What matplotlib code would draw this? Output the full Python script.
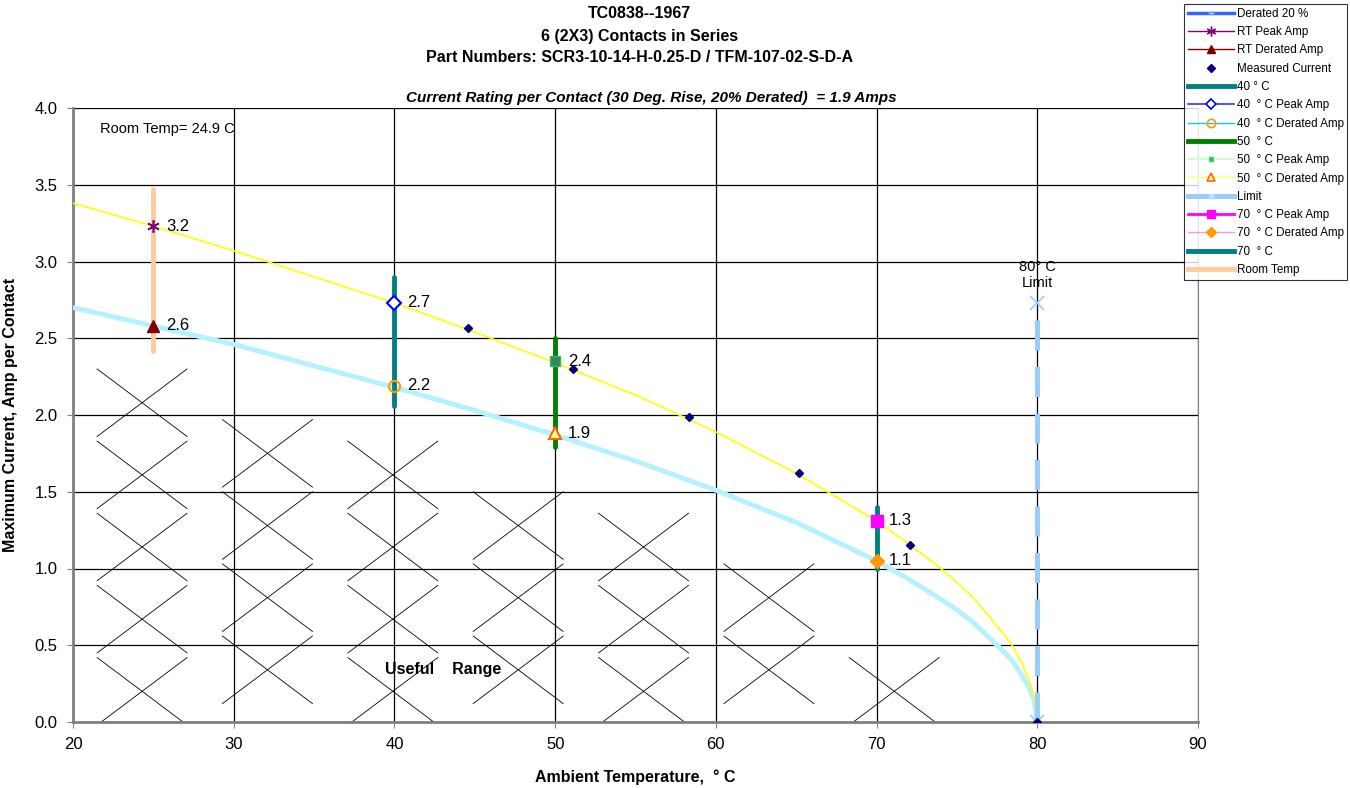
import numpy as np
import matplotlib.pyplot as plt
from matplotlib.lines import Line2D

plt.rcParams['font.family'] = ['Liberation Sans', 'DejaVu Sans']

# curves
temps = [20, 25, 30, 35, 40, 45, 50, 55, 60, 65, 70, 72, 74, 75, 76, 77, 78, 78.5, 79, 79.5, 79.8, 80]
peak_amp = [3.38, 3.23, 3.07, 2.90, 2.73, 2.54, 2.34, 2.13, 1.89, 1.62, 1.31, 1.16,
            1.00, 0.91, 0.81, 0.69, 0.56, 0.49, 0.39, 0.27, 0.17, 0.0]
derated_amp = [2.70, 2.58, 2.46, 2.32, 2.18, 2.03, 1.87, 1.70, 1.51, 1.30, 1.05, 0.93,
               0.80, 0.73, 0.65, 0.55, 0.45, 0.39, 0.31, 0.22, 0.14, 0.0]

# measured points
meas_t = [44.6, 51.1, 58.3, 65.2, 72.1, 80]
meas_i = [2.57, 2.30, 1.99, 1.62, 1.15, 0.0]

# vertical range bars (temp, low, high)
bar_room = (25, 2.42, 3.47)
bar_40 = (40, 2.06, 2.90)
bar_50 = (50, 1.79, 2.50)
bar_70 = (70, 1.00, 1.40)

# rating points
pk_t = [25, 40, 50, 70]
pk_i = [3.23, 2.73, 2.35, 1.31]
pk_lbl = ['3.2', '2.7', '2.4', '1.3']
dr_t = [25, 40, 50, 70]
dr_i = [2.58, 2.19, 1.88, 1.05]
dr_lbl = ['2.6', '2.2', '1.9', '1.1']

limit_t = 80
limit_i = 2.73

fig = plt.figure(figsize=(13.5, 7.88), dpi=100)
ax = fig.add_axes([73/1350, 66/788, 1125/1350, 614/788])

# "useful range" crosses below the derated curve
hw, hh = 2.8, 0.22
for k in range(8):
    cx = 24.3 + k*7.8
    off = 0.0 if k % 2 == 0 else 0.14
    for j in range(6):
        cy = 0.2 + off + j*0.47
        lim = np.interp(cx + hw, temps, derated_amp)
        if cy + hh > lim - 0.08 or cx + hw > 76:
            continue
        ax.plot([cx-hw, cx+hw], [cy-hh, cy+hh], color='black', lw=0.6, zorder=1)
        ax.plot([cx-hw, cx+hw], [cy+hh, cy-hh], color='black', lw=0.6, zorder=1)

ax.plot(temps, derated_amp, color='#3366ff', lw=2.5, zorder=3)
ax.plot(temps, derated_amp, color='#b5f2ff', lw=3.5, zorder=4)
ax.plot(temps, peak_amp, color='#ffff00', lw=1.2, zorder=4)

bars = [(bar_room, '#ffcc99'), (bar_40, '#008080'), (bar_50, '#008000'), (bar_70, '#008080')]
for (t, lo, hi), c in bars:
    ax.plot([t, t], [lo, hi], color=c, lw=3.5, solid_capstyle='round', zorder=5)

ax.plot([limit_t, limit_t], [0, limit_i], color='#99ccff', lw=3.6,
        dashes=(6, 3.3), zorder=5)
ax.plot([limit_t], [limit_i], marker='x', ms=10, mew=1.2, color='#99ccff', zorder=6)
ax.plot([limit_t], [0], marker='x', ms=10, mew=1.2, color='#99ccff', zorder=6)

ax.plot(meas_t, meas_i, ls='none', marker='D', ms=4.5, color='#000080', zorder=7)

mk = [dict(marker=(6, 2, 0), ms=9, mec='#800080', mfc='#800080', mew=1.2),
      dict(marker='D', ms=7, mec='#0000ff', mfc='white', mew=1.5),
      dict(marker='s', ms=7, mec='#3cb371', mfc='#2e8b57', mew=1),
      dict(marker='s', ms=8, mec='#ff00ff', mfc='#ff00ff', mew=1)]
for t, i, s, m in zip(pk_t, pk_i, pk_lbl, mk):
    ax.plot([t], [i], ls='none', zorder=8, **m)
    ax.annotate(s, (t, i), xytext=(9, 0), textcoords='offset points',
                va='center', ha='left', fontsize=12, zorder=9)

mk2 = [dict(marker='^', ms=8, mec='#800000', mfc='#800000'),
       dict(marker='o', ms=8, mec='#ff9900', mfc='none', mew=1.5),
       dict(marker='^', ms=8, mec='#ff6600', mfc='#ffff99', mew=1.5),
       dict(marker='D', ms=7, mec='#ff9900', mfc='#ff9900')]
for t, i, s, m in zip(dr_t, dr_i, dr_lbl, mk2):
    ax.plot([t], [i], ls='none', zorder=8, **m)
    ax.annotate(s, (t, i), xytext=(9, 0), textcoords='offset points',
                va='center', ha='left', fontsize=12, zorder=9)

ax.text(21.7, 3.86, 'Room Temp= 24.9 C', fontsize=10.5, va='center')
ax.text(43.0, 0.34, 'Useful    Range', fontsize=11.5, fontweight='bold',
        ha='center', va='center', zorder=9)
ax.text(limit_t, 2.91, '80° C\nLimit', fontsize=10.5, ha='center', va='center',
        linespacing=1.2)

ax.set_xlim(20, 90)
ax.set_ylim(0, 4.0)
ax.set_xticks(range(20, 91, 10))
ax.set_yticks(np.arange(0, 4.01, 0.5))
ax.yaxis.set_major_formatter(plt.FormatStrFormatter('%.1f'))
ax.grid(True, color='black', lw=0.9, zorder=0)
ax.set_axisbelow(True)
ax.tick_params(labelsize=12, length=4, pad=7, color='#808080')
for sp in ['left', 'bottom']:
    ax.spines[sp].set_color('#808080')
    ax.spines[sp].set_linewidth(2)
ax.spines['top'].set_visible(False)
ax.spines['right'].set_color('#808080')
ax.set_xlabel('Ambient Temperature,  ° C', fontsize=11.5, fontweight='bold', labelpad=12)
ax.set_ylabel('Maximum Current, Amp per Contact', fontsize=11.5, fontweight='bold', labelpad=12)

fig.text(640/1350, 1 - 13/788, 'TC0838--1967', fontsize=11.5, fontweight='bold',
         ha='center', va='center')
fig.text(640/1350, 1 - 37/788, '6 (2X3) Contacts in Series', fontsize=11.5,
         fontweight='bold', ha='center', va='center')
fig.text(640/1350, 1 - 57/788, 'Part Numbers: SCR3-10-14-H-0.25-D / TFM-107-02-S-D-A',
         fontsize=11.5, fontweight='bold', ha='center', va='center')
fig.text(651/1350, 1 - 98/788,
         'Current Rating per Contact (30 Deg. Rise, 20% Derated)  = 1.9 Amps',
         fontsize=11, fontweight='bold', style='italic', ha='center', va='center')

handles = [
    Line2D([], [], color='#3366ff', lw=2.5, marker='+', ms=4, mec='#99ccff'),
    Line2D([], [], color='#800080', lw=1, marker=(6, 2, 0), ms=7, mec='#800080'),
    Line2D([], [], color='#800000', lw=1, marker='^', ms=6, mec='#800000', mfc='#800000'),
    Line2D([], [], ls='none', marker='D', ms=4.5, color='#000080'),
    Line2D([], [], color='#008080', lw=3.5),
    Line2D([], [], color='#3333ff', lw=1.2, marker='D', ms=5, mec='#0000ff', mfc='white', mew=1.2),
    Line2D([], [], color='#00ccff', lw=1, marker='o', ms=6, mec='#ff9900', mfc='none', mew=1.2),
    Line2D([], [], color='#008000', lw=3.5),
    Line2D([], [], color='#ccffcc', lw=1.5, marker='s', ms=5, mec='#ccffcc', mfc='#3cb371'),
    Line2D([], [], color='#ffff99', lw=1.5, marker='^', ms=6, mec='#ff6600', mfc='#ffff99', mew=1.2),
    Line2D([], [], color='#99ccff', lw=3.6, marker='x', ms=5, mec='#cce6ff'),
    Line2D([], [], color='#ff00ff', lw=2, marker='s', ms=6, mec='#ff00ff', mfc='#ff00ff'),
    Line2D([], [], color='#ff99cc', lw=1, marker='D', ms=5, mec='#ff9900', mfc='#ff9900'),
    Line2D([], [], color='#008080', lw=3.5),
    Line2D([], [], color='#ffcc99', lw=3.5),
]
labels = ['Derated 20 %', 'RT Peak Amp', 'RT Derated Amp', 'Measured Current', '40 ° C',
          '40  ° C Peak Amp', '40  ° C Derated Amp', '50  ° C', '50  ° C Peak Amp',
          '50  ° C Derated Amp', 'Limit', '70  ° C Peak Amp', '70  ° C Derated Amp',
          '70  ° C', 'Room Temp']
leg = fig.legend(handles, labels, loc='upper right', bbox_to_anchor=(0.998, 0.9945),
                 fontsize=8.4, frameon=True, fancybox=False, edgecolor='black',
                 handlelength=4.0, handletextpad=0.2, labelspacing=0.54,
                 borderpad=0.3, borderaxespad=0)
leg.get_frame().set_linewidth(0.8)

fig.savefig('out.png', dpi=100)
